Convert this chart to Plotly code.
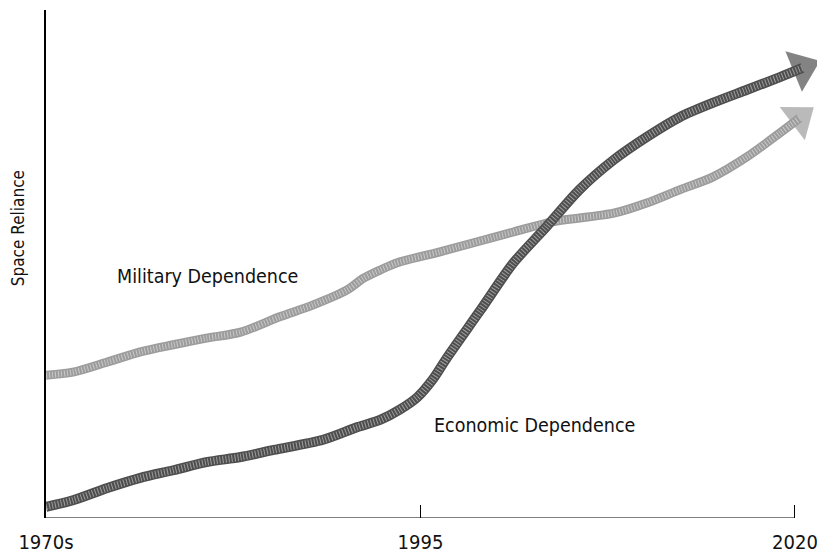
import plotly.graph_objects as go

# Space reliance trend lines (relative index, 0-100)
military_years = [1970, 1971.8, 1974.1, 1976.3, 1978.5, 1980.7, 1983.0, 1985.6, 1987.8,
                  1990.1, 1991.2, 1992.3, 1993.4, 1996.3, 2001.2, 2003.8, 2007.9, 2010.1,
                  2012.3, 2014.5, 2016.8, 2019.0, 2020.3]
military_values = [28.1, 28.7, 30.7, 32.7, 34.1, 35.4, 36.6, 39.6, 41.9,
                   44.9, 47.2, 48.8, 50.2, 52.4, 56.3, 58.3, 60.0, 62.0,
                   64.6, 67.1, 71.1, 75.8, 78.7]

economic_years = [1970, 1971.8, 1974.1, 1976.3, 1978.5, 1980.7, 1983.0, 1985.2, 1988.5,
                  1990.8, 1992.3, 1993.6, 1994.8, 1995.8, 1996.8, 1999.0, 2001.2, 2003.4,
                  2005.6, 2007.9, 2010.1, 2012.3, 2014.5, 2016.8, 2019.0, 2020.5]
economic_values = [2.2, 3.5, 5.9, 7.9, 9.4, 11.0, 12.0, 13.4, 15.4,
                   17.9, 19.3, 21.3, 23.8, 27.2, 31.7, 40.9, 50.2, 57.3,
                   64.6, 70.5, 75.0, 78.9, 81.7, 84.3, 86.8, 88.6]

tick_years = [1970, 1995, 2020]
tick_labels = ["1970s", "1995", "2020"]

FONT = "DejaVu Sans Condensed, Liberation Sans Narrow, Arial Narrow, Liberation Sans, sans-serif"
X_END = 2021.47  # room on the right for the arrowheads


def arrow_sizes(n, head):
    return [0] * (n - 1) + [head]


def add_arrow_line(fig, xs, ys, color, width, head):
    # solid band with a triangular head on the last point
    fig.add_trace(go.Scatter(
        x=xs, y=ys, mode="lines+markers",
        line=dict(color=color, width=width, shape="spline", smoothing=0.8),
        marker=dict(symbol="triangle-up", angleref="previous",
                    size=arrow_sizes(len(xs), head), color=color,
                    line=dict(width=0)),
        cliponaxis=False, showlegend=False, hoverinfo="skip",
    ))
    # fine speckle over the band for a halftone look
    fig.add_trace(go.Scatter(
        x=xs, y=ys, mode="lines",
        line=dict(color="rgba(255,255,255,0.45)", width=width - 3,
                  shape="spline", smoothing=0.8, dash="1px,2px"),
        cliponaxis=False, showlegend=False, hoverinfo="skip",
    ))


fig = go.Figure()
add_arrow_line(fig, military_years, military_values, "#9c9c9c", 9, 36)
add_arrow_line(fig, economic_years, economic_values, "#4e4e4e", 10, 38)

fig.add_annotation(x=1974.6, y=47.5, text="Military Dependence", showarrow=False,
                   xanchor="left", yanchor="middle",
                   font=dict(family=FONT, size=19.5, color="#111"))
fig.add_annotation(x=1995.8, y=18.3, text="Economic Dependence", showarrow=False,
                   xanchor="left", yanchor="middle",
                   font=dict(family=FONT, size=19.5, color="#111"))
fig.add_annotation(xref="paper", yref="paper", x=-0.036, y=0.571,
                   text="Space Reliance", textangle=-90, showarrow=False,
                   xanchor="center", yanchor="middle",
                   font=dict(family=FONT, size=17, color="#111"))

# baseline from the first to the last labelled year
fig.add_shape(type="line", xref="x", yref="y",
              x0=tick_years[0], x1=tick_years[-1], y0=0, y1=0,
              line=dict(color="black", width=1))

fig.update_xaxes(
    range=[1970, X_END], tickvals=tick_years, ticktext=tick_labels,
    ticks="inside", ticklen=13, tickwidth=1, tickcolor="black",
    showline=False, showgrid=False, zeroline=False, ticklabelstandoff=10,
    ticklabeloverflow="allow",
    tickfont=dict(family=FONT, size=20, color="#111"),
)
fig.update_yaxes(
    range=[0, 100], showline=True, linecolor="black", linewidth=1.5,
    showticklabels=False, ticks="", showgrid=False, zeroline=False,
)

fig.update_layout(
    width=817, height=559,
    margin=dict(l=46, r=0, t=10, b=41, autoexpand=False),
    plot_bgcolor="white", paper_bgcolor="white",
)

fig.write_html("out.html")
